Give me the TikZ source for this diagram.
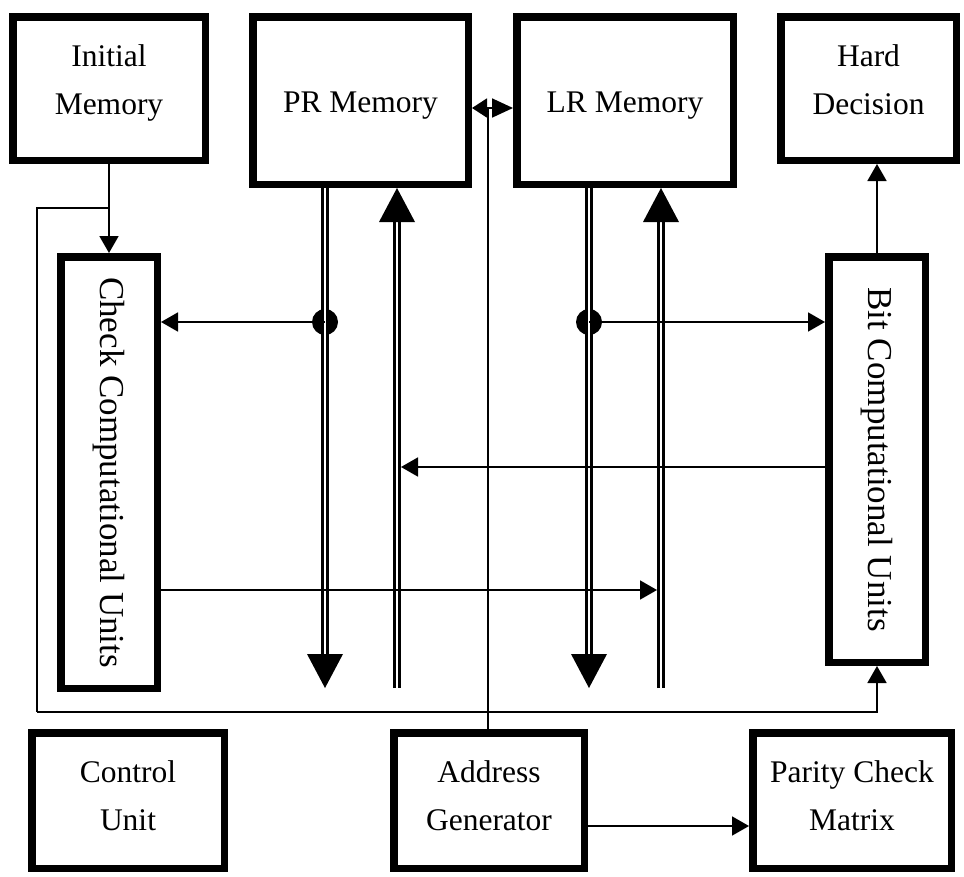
\documentclass[tikz,border=0pt]{standalone}
\usepackage{fontspec}
\setmainfont{Liberation Serif}
\usepackage{graphicx}
\usetikzlibrary{arrows.meta,calc}
\begin{document}
\begin{tikzpicture}[x=1pt,y=-1pt,
  box/.style={draw, line width=7.5pt, inner sep=0pt, align=center, font=\fontsize{31.5}{48}\selectfont},
  vbox/.style={box, font=\fontsize{35}{48}\selectfont},
  wire/.style={line width=1.8pt},
  conn/.style={line width=1.8pt, -{Triangle[length=17pt,width=19pt]}},
  bus/.style={line width=2.4pt, double, double distance=2.6pt},
  dot/.style={circle, fill, inner sep=0pt, minimum size=26pt},
]
\useasboundingbox (0,0) rectangle (964,876);
% boxes
\node[box, text depth=17pt, minimum width=192.5pt, minimum height=143.5pt] (init) at (109,88.5) {Initial\\Memory};
\node[box, text height=31pt, minimum width=215.5pt, minimum height=167.5pt] (pr) at (360.5,100.5) {PR Memory};
\node[box, text height=31pt, minimum width=216.5pt, minimum height=167.5pt] (lr) at (625,100.5) {LR Memory};
\node[box, text depth=17pt, minimum width=175.5pt, minimum height=143.5pt] (hd) at (868.5,88.5) {Hard\\Decision};
\node[vbox, minimum width=96.5pt, minimum height=431.5pt] (chk) at (109,472.5) {\rotatebox{-90}{Check Computational Units}};
\node[vbox, minimum width=96.5pt, minimum height=405.5pt] (bit) at (877,459.5) {\rotatebox{-90}{Bit Computational Units}};
\node[box, text depth=10pt, minimum width=192.5pt, minimum height=135.5pt] (cu) at (128,800.5) {Control\\Unit};
\node[box, text depth=10pt, minimum width=190.5pt, minimum height=135.5pt] (ag) at (489,800.5) {Address\\Generator};
\node[box, text depth=10pt, minimum width=198.5pt, minimum height=135.5pt] (pcm) at (852,800.5) {Parity Check\\Matrix};
% helper coordinates
\coordinate (prdn) at (325,688);
\coordinate (prup) at (397,688);
\coordinate (lrdn) at (589,688);
\coordinate (lrup) at (661,688);
\node[dot] (prdot) at (325,322) {};
\node[dot] (lrdot) at (589,322) {};
\coordinate (junc) at (488,108);
\coordinate (lp) at (37,208);
\coordinate (lpb) at (37,712);
\coordinate (ya) at (0,467);
\coordinate (yb) at (0,590);
\coordinate (yc) at (0,826);
% buses down
\draw[bus] (pr.south -| prdn) -- ($(prdn)+(0,-34)$);
\fill ($(prdn)+(-18,-34)$) -- ($(prdn)+(18,-34)$) -- (prdn) -- cycle;
\draw[bus] (lr.south -| lrdn) -- ($(lrdn)+(0,-34)$);
\fill ($(lrdn)+(-18,-34)$) -- ($(lrdn)+(18,-34)$) -- (lrdn) -- cycle;
% buses up
\draw[bus] (prup) -- ($(pr.south -| prup)+(0,34)$);
\fill ($(pr.south -| prup)+(-18,34)$) -- ($(pr.south -| prup)+(18,34)$) -- (pr.south -| prup) -- cycle;
\draw[bus] (lrup) -- ($(lr.south -| lrup)+(0,34)$);
\fill ($(lr.south -| lrup)+(-18,34)$) -- ($(lr.south -| lrup)+(18,34)$) -- (lr.south -| lrup) -- cycle;
% taps
\draw[conn] (prdot.center) -- (prdot -| chk.east);
\draw[conn] (lrdot.center) -- (lrdot -| bit.west);
\draw[conn] (bit.west |- ya) -- ($(prup |- ya)+(4,0)$);
\draw[conn] (chk.east |- yb) -- ($(lrup |- yb)+(-4,0)$);
% memory links
\draw[conn] (init.south) -- (chk.north);
\draw[conn] (bit.north) -- (bit.north |- hd.south);
\draw[wire] (init.south |- lp) -- (lp) -- (lpb);
\draw[conn] (lpb) -| (bit.south);
\draw[wire] (ag.north -| junc) -- (junc);
\draw[line width=1.8pt, -{Triangle[length=15pt,width=19pt]}] (junc) -- (junc -| pr.east);
\draw[line width=1.8pt, -{Triangle[length=21pt,width=19pt]}] (junc) -- (junc -| lr.west);
\draw[conn] (ag.east |- yc) -- (pcm.west |- yc);
\end{tikzpicture}
\end{document}
